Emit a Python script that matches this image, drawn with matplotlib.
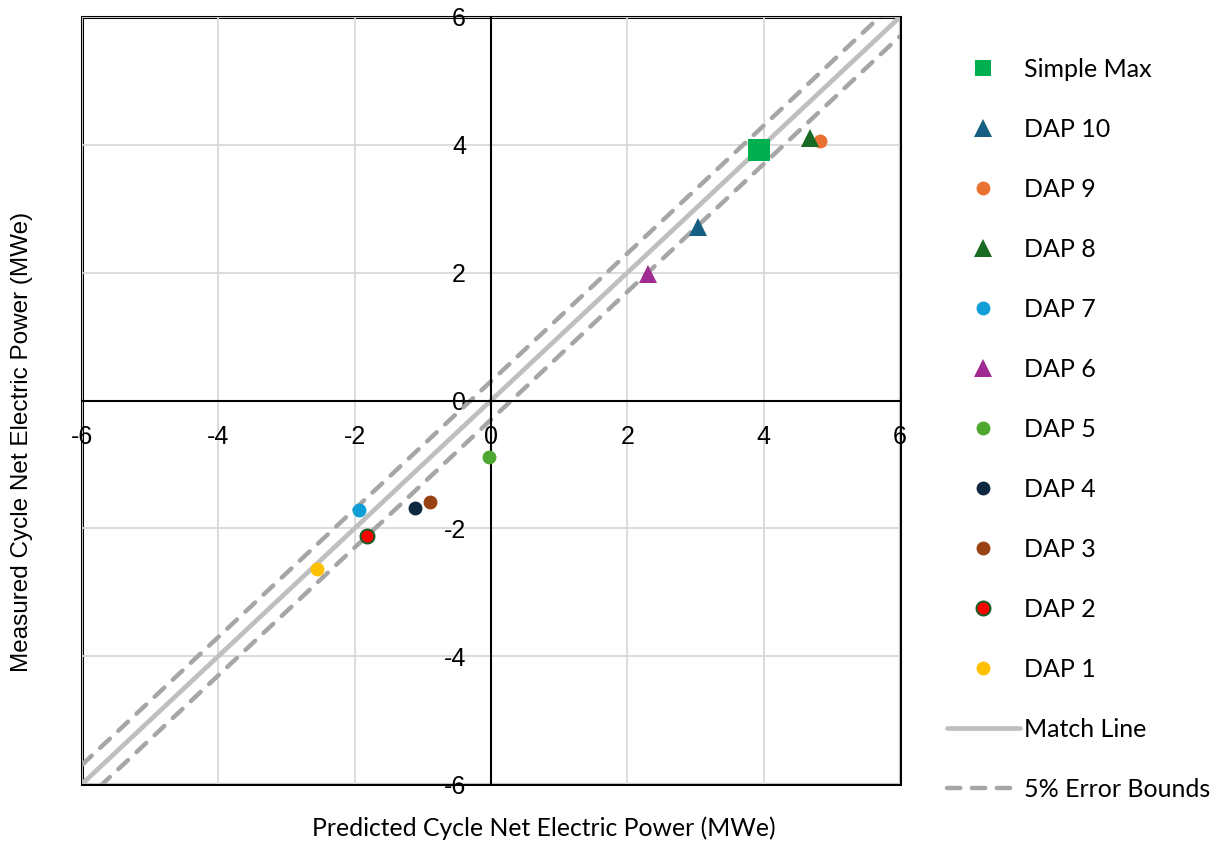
import matplotlib.pyplot as plt
from matplotlib.lines import Line2D

plt.rcParams["axes.unicode_minus"] = False

# predicted vs measured cycle net electric power, MWe
series = ["Simple Max", "DAP 10", "DAP 9", "DAP 8", "DAP 7", "DAP 6",
          "DAP 5", "DAP 4", "DAP 3", "DAP 2", "DAP 1"]
predicted = [3.93, 3.04, 4.83, 4.68, -1.94, 2.30, -0.03, -1.11, -0.89, -1.82, -2.55]
measured = [3.92, 2.71, 4.06, 4.11, -1.71, 1.98, -0.88, -1.68, -1.59, -2.12, -2.64]

# match line and the 5% error bound offset (5% of full scale 6 MWe)
match_x = [-6, 6]
bound_offset = 0.3

# marker styles for each series
markers = ["s", "^", "o", "^", "o", "^", "o", "o", "o", "o", "o"]
colors = ["#00b050", "#156082", "#e97132", "#196b24", "#0f9ed5", "#a02b93",
          "#4ea72e", "#0e2841", "#984214", "#ff0000", "#ffc000"]
edges = list(colors)
edges[9] = "#1e5c26"
sizes = [16, 13, 10, 13, 10, 13, 10, 10, 10, 10, 10]

text_font = ["Lato", "DejaVu Sans"]
tick_font = ["Liberation Sans", "DejaVu Sans"]

fig = plt.figure(figsize=(12.19, 8.44), dpi=100)
ax = fig.add_axes([82 / 1219, 60 / 844, 818 / 1219, 767 / 844])

ax.set_xlim(-6, 6)
ax.set_ylim(-6, 6)
ax.set_xticks(range(-6, 7, 2))
ax.set_yticks(range(-6, 7, 2))
ax.grid(True, color="#d9d9d9", linewidth=1.3)
ax.set_axisbelow(True)

# axes cross at zero, frame drawn by the axes patch
ax.spines["left"].set_position("zero")
ax.spines["bottom"].set_position("zero")
ax.spines["top"].set_visible(False)
ax.spines["right"].set_visible(False)
for s in ["left", "bottom"]:
    ax.spines[s].set_linewidth(1.5)
    ax.spines[s].set_color("black")
ax.patch.set_edgecolor("black")
ax.patch.set_linewidth(2.2)

ax.tick_params(length=0, labelsize=18, pad=18)
for lab in ax.get_xticklabels() + ax.get_yticklabels():
    lab.set_family(tick_font)

# match line and error bounds
ax.plot(match_x, match_x, color="#bfbfbf", linewidth=3.4, solid_capstyle="round",
        zorder=2, label="Match Line")
ax.plot(match_x, [v + bound_offset for v in match_x], color="#a6a6a6", linewidth=3.2,
        dashes=(3.0, 2.6), dash_capstyle="round", zorder=2, label="5% Error Bounds")
ax.plot(match_x, [v - bound_offset for v in match_x], color="#a6a6a6", linewidth=3.2,
        dashes=(3.0, 2.6), dash_capstyle="round", zorder=2)

handles = []
for i in range(len(series)):
    h, = ax.plot(predicted[i], measured[i], linestyle="none", marker=markers[i],
                 markersize=sizes[i], markerfacecolor=colors[i],
                 markeredgecolor=edges[i], markeredgewidth=1.5 if i == 9 else 0,
                 zorder=4, label=series[i])
    handles.append(h)

line_handles = [
    Line2D([], [], color="#bfbfbf", linewidth=3.4, solid_capstyle="round"),
    Line2D([], [], color="#a6a6a6", linewidth=3.2, dashes=(3.0, 2.6), dash_capstyle="round"),
]

leg = fig.legend(handles + line_handles, series + ["Match Line", "5% Error Bounds"],
                 loc="upper left", bbox_to_anchor=(947 / 1219, 1 - 58 / 844),
                 frameon=False, borderpad=0, borderaxespad=0,
                 handlelength=2.9, handletextpad=0.18, labelspacing=1.48,
                 prop={"family": text_font, "size": 18})
leg.legend_handles[0].set_markersize(11.5)

ax.set_xlabel("Predicted Cycle Net Electric Power (MWe)", fontsize=17.8, family=text_font)
ax.set_ylabel("Measured Cycle Net Electric Power (MWe)", fontsize=17.5, family=tick_font)
ax.xaxis.set_label_coords(0.564, -0.057)
ax.yaxis.set_label_coords(-0.073, 0.446)
ax.xaxis.label.set_verticalalignment("center")
ax.yaxis.label.set_verticalalignment("center")

fig.savefig("out.png", dpi=100)
